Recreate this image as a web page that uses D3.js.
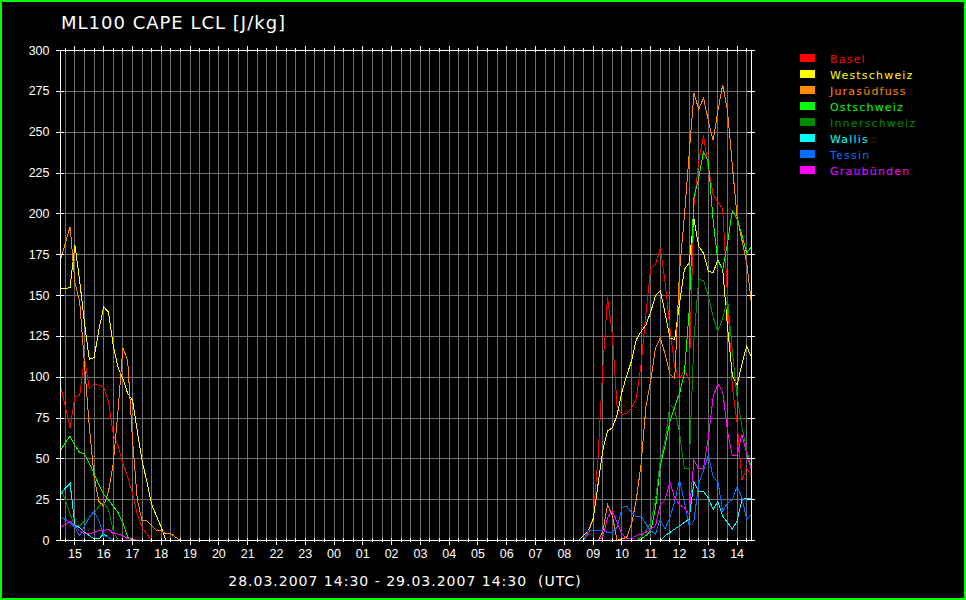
<!DOCTYPE html>
<html>
<head>
<meta charset="utf-8">
<script src="https://cdn.jsdelivr.net/npm/d3@7"></script>
<style>
  body { margin: 0; background: #000; }
  svg { display: block; }
</style>
</head>
<body>
<script>
/* ---------------------------- */
/* DATA                         */
/* ---------------------------- */

const regions = ["Basel", "Westschweiz", "Jurasüdfuss", "Ostschweiz", "Innerschweiz", "Wallis", "Tessin", "Graubünden"];
const colors  = ["#ff0000", "#ffff00", "#ff8c00", "#00ff00", "#008c00", "#00ffff", "#0070ff", "#ff00ff"];
const yTicks  = [0, 25, 50, 75, 100, 125, 150, 175, 200, 225, 250, 275, 300];

const startTime = Date.UTC(2007, 2, 28, 14, 30);
const endTime   = Date.UTC(2007, 2, 29, 14, 30);
const stepMinutes = 10; // one value every 10 min, 145 values per region

const basel = [
  95, 82, 69, 88, 89, 112, 93, 96, 95, 94, 85, 65,
  58, 47, 39, 29, 16, 8, 4, 0, 0, 0, 0, 0,
  0, 0, 0, 0, 0, 0, 0, 0, 0, 0, 0, 0,
  0, 0, 0, 0, 0, 0, 0, 0, 0, 0, 0, 0,
  0, 0, 0, 0, 0, 0, 0, 0, 0, 0, 0, 0,
  0, 0, 0, 0, 0, 0, 0, 0, 0, 0, 0, 0,
  0, 0, 0, 0, 0, 0, 0, 0, 0, 0, 0, 0,
  0, 0, 0, 0, 0, 0, 0, 0, 0, 0, 0, 0,
  0, 0, 0, 0, 0, 0, 0, 0, 0, 0, 0, 0,
  0, 0, 4, 14, 50, 105, 149, 126, 82, 77, 78, 81,
  87, 108, 139, 167, 169, 179, 158, 130, 106, 99, 105, 98,
  205, 232, 248, 228, 212, 207, 203, 150, 94, 72, 37, 44,
  40
];
const westschweiz = [
  154, 154, 155, 181, 159, 133, 111, 112, 129, 143, 140, 119,
  106, 99, 90, 86, 67, 49, 36, 22, 15, 8, 0, 0,
  0, 0, 0, 0, 0, 0, 0, 0, 0, 0, 0, 0,
  0, 0, 0, 0, 0, 0, 0, 0, 0, 0, 0, 0,
  0, 0, 0, 0, 0, 0, 0, 0, 0, 0, 0, 0,
  0, 0, 0, 0, 0, 0, 0, 0, 0, 0, 0, 0,
  0, 0, 0, 0, 0, 0, 0, 0, 0, 0, 0, 0,
  0, 0, 0, 0, 0, 0, 0, 0, 0, 0, 0, 0,
  0, 0, 0, 0, 0, 0, 0, 0, 0, 0, 0, 0,
  0, 3, 6, 13, 34, 55, 67, 69, 77, 91, 101, 110,
  123, 128, 132, 140, 150, 153, 139, 124, 123, 145, 166, 170,
  197, 180, 176, 165, 164, 172, 166, 131, 101, 95, 108, 119,
  112
];
const jurasuedfuss = [
  172, 182, 192, 158, 146, 108, 70, 39, 24, 21, 30, 47,
  80, 118, 110, 62, 25, 12, 12, 9, 6, 6, 4, 4,
  2, 0, 0, 0, 0, 0, 0, 0, 0, 0, 0, 0,
  0, 0, 0, 0, 0, 0, 0, 0, 0, 0, 0, 0,
  0, 0, 0, 0, 0, 0, 0, 0, 0, 0, 0, 0,
  0, 0, 0, 0, 0, 0, 0, 0, 0, 0, 0, 0,
  0, 0, 0, 0, 0, 0, 0, 0, 0, 0, 0, 0,
  0, 0, 0, 0, 0, 0, 0, 0, 0, 0, 0, 0,
  0, 0, 0, 0, 0, 0, 0, 0, 0, 0, 0, 0,
  0, 0, 0, 0, 0, 5, 22, 15, 0, 1, 2, 10,
  25, 47, 82, 98, 118, 124, 114, 102, 99, 165, 198, 236,
  274, 264, 271, 257, 245, 263, 279, 263, 230, 198, 184, 170,
  145
];
const ostschweiz = [
  55, 60, 64, 58, 54, 53, 47, 41, 34, 28, 25, 21,
  17, 11, 2, 0, 0, 0, 0, 0, 0, 0, 0, 0,
  0, 0, 0, 0, 0, 0, 0, 0, 0, 0, 0, 0,
  0, 0, 0, 0, 0, 0, 0, 0, 0, 0, 0, 0,
  0, 0, 0, 0, 0, 0, 0, 0, 0, 0, 0, 0,
  0, 0, 0, 0, 0, 0, 0, 0, 0, 0, 0, 0,
  0, 0, 0, 0, 0, 0, 0, 0, 0, 0, 0, 0,
  0, 0, 0, 0, 0, 0, 0, 0, 0, 0, 0, 0,
  0, 0, 0, 0, 0, 0, 0, 0, 0, 0, 0, 0,
  0, 0, 0, 0, 0, 0, 0, 0, 0, 0, 0, 0,
  0, 1, 3, 6, 20, 46, 58, 73, 82, 90, 102, 140,
  210, 222, 238, 232, 196, 171, 166, 182, 202, 197, 187, 176,
  180
];
const innerschweiz = [
  31, 25, 16, 9, 9, 12, 14, 17, 21, 23, 19, 6,
  0, 0, 0, 0, 0, 0, 0, 0, 0, 0, 0, 0,
  0, 0, 0, 0, 0, 0, 0, 0, 0, 0, 0, 0,
  0, 0, 0, 0, 0, 0, 0, 0, 0, 0, 0, 0,
  0, 0, 0, 0, 0, 0, 0, 0, 0, 0, 0, 0,
  0, 0, 0, 0, 0, 0, 0, 0, 0, 0, 0, 0,
  0, 0, 0, 0, 0, 0, 0, 0, 0, 0, 0, 0,
  0, 0, 0, 0, 0, 0, 0, 0, 0, 0, 0, 0,
  0, 0, 0, 0, 0, 0, 0, 0, 0, 0, 0, 0,
  0, 0, 0, 0, 0, 0, 0, 0, 0, 0, 0, 0,
  0, 2, 6, 11, 25, 49, 61, 83, 80, 66, 44, 44,
  123, 160, 159, 150, 137, 128, 136, 148, 116, 88, 70, 55,
  45
];
const wallis = [
  28, 32, 35, 9, 8, 5, 3, 1, 1, 4, 2, 0,
  0, 0, 0, 0, 0, 0, 0, 0, 0, 0, 0, 0,
  0, 0, 0, 0, 0, 0, 0, 0, 0, 0, 0, 0,
  0, 0, 0, 0, 0, 0, 0, 0, 0, 0, 0, 0,
  0, 0, 0, 0, 0, 0, 0, 0, 0, 0, 0, 0,
  0, 0, 0, 0, 0, 0, 0, 0, 0, 0, 0, 0,
  0, 0, 0, 0, 0, 0, 0, 0, 0, 0, 0, 0,
  0, 0, 0, 0, 0, 0, 0, 0, 0, 0, 0, 0,
  0, 0, 0, 0, 0, 0, 0, 0, 0, 0, 0, 0,
  0, 0, 0, 0, 0, 0, 0, 0, 0, 0, 0, 0,
  0, 0, 0, 0, 0, 0, 3, 5, 7, 9, 11, 13,
  36, 30, 30, 26, 19, 24, 15, 11, 7, 12, 25, 26,
  26
];
const tessin = [
  14, 13, 11, 8, 3, 9, 14, 18, 12, 3, 2, 0,
  0, 0, 0, 0, 0, 0, 0, 0, 0, 0, 0, 0,
  0, 0, 0, 0, 0, 0, 0, 0, 0, 0, 0, 0,
  0, 0, 0, 0, 0, 0, 0, 0, 0, 0, 0, 0,
  0, 0, 0, 0, 0, 0, 0, 0, 0, 0, 0, 0,
  0, 0, 0, 0, 0, 0, 0, 0, 0, 0, 0, 0,
  0, 0, 0, 0, 0, 0, 0, 0, 0, 0, 0, 0,
  0, 0, 0, 0, 0, 0, 0, 0, 0, 0, 0, 0,
  0, 0, 0, 0, 0, 0, 0, 0, 0, 0, 0, 0,
  0, 0, 6, 6, 6, 6, 5, 5, 8, 20, 21, 17,
  15, 15, 10, 6, 4, 13, 7, 14, 24, 37, 24, 9,
  12, 35, 43, 52, 39, 36, 18, 23, 25, 33, 26, 13,
  16
];
const graubuenden = [
  8, 10, 12, 9, 6, 4, 4, 5, 6, 6, 7, 4,
  4, 3, 1, 1, 0, 0, 0, 0, 0, 0, 0, 0,
  0, 0, 0, 0, 0, 0, 0, 0, 0, 0, 0, 0,
  0, 0, 0, 0, 0, 0, 0, 0, 0, 0, 0, 0,
  0, 0, 0, 0, 0, 0, 0, 0, 0, 0, 0, 0,
  0, 0, 0, 0, 0, 0, 0, 0, 0, 0, 0, 0,
  0, 0, 0, 0, 0, 0, 0, 0, 0, 0, 0, 0,
  0, 0, 0, 0, 0, 0, 0, 0, 0, 0, 0, 0,
  0, 0, 0, 0, 0, 0, 0, 0, 0, 0, 0, 0,
  0, 0, 0, 0, 0, 2, 14, 18, 11, 4, 1, 1,
  3, 4, 5, 7, 9, 22, 25, 36, 26, 22, 20, 16,
  49, 44, 44, 63, 88, 96, 91, 67, 52, 52, 65, 53,
  43
];

const series = [basel, westschweiz, jurasuedfuss, ostschweiz, innerschweiz, wallis, tessin, graubuenden];

/* ---------------------------- */
/* CANVAS                       */
/* ---------------------------- */

const w = 966;
const h = 600;
const plot = {left: 60, right: 751, top: 50, bottom: 540};
const gridColor = "#707070";

let svg = d3.select("body")
  .append("svg")
    .attr("width", w)
    .attr("height", h);

svg.append("rect")
  .attr("width", w)
  .attr("height", h)
  .attr("fill", "#000");

// Scales
let x = d3.scaleUtc()
  .domain([startTime, endTime])
  .range([plot.left, plot.right]);
let y = d3.scaleLinear()
  .domain([0, 300])
  .range([plot.bottom, plot.top]);

const minorTicks = x.ticks(d3.utcMinute.every(20));

// Grid
let grid = svg.append("g")
  .attr("stroke", gridColor)
  .attr("shape-rendering", "crispEdges");
grid.selectAll("line.v")
  .data(minorTicks)
  .enter()
  .append("line")
    .attr("class", "v")
    .attr("x1", (d) => x(d) + 0.5)
    .attr("x2", (d) => x(d) + 0.5)
    .attr("y1", plot.top + 0.5)
    .attr("y2", plot.bottom + 0.5);
grid.selectAll("line.h")
  .data(yTicks.filter((d) => d > 0 && d < 300))
  .enter()
  .append("line")
    .attr("class", "h")
    .attr("x1", plot.left + 0.5)
    .attr("x2", plot.right + 0.5)
    .attr("y1", (d) => y(d) + 0.5)
    .attr("y2", (d) => y(d) + 0.5);

// Lines
let line = d3.line()
  .x((d, i) => x(startTime + i * stepMinutes * 60000))
  .y((d) => y(d));

svg.append("g")
  .attr("transform", "translate(0.5,0.5)")
  .selectAll("path")
  .data(series)
  .enter()
  .append("path")
    .attr("d", line)
    .attr("fill", "none")
    .attr("stroke", (d, i) => colors[i])
    .attr("stroke-width", 1)
    .attr("shape-rendering", "crispEdges");

/* ---------------------------- */
/* AXES                         */
/* ---------------------------- */

function styleAxis(g) {
  g.attr("color", "#fff")
   .attr("font-family", "'Liberation Sans', Arial, sans-serif")
   .attr("font-size", "12.5px")
   .attr("shape-rendering", "crispEdges");
  g.selectAll("text").attr("fill", "#fff");
}

// Left
svg.append("g")
  .attr("transform", "translate(" + plot.left + ",0)")
  .call(d3.axisLeft(y).tickValues(yTicks).tickSize(4).tickSizeOuter(0).tickPadding(6.5))
  .call(styleAxis)
  .call((g) => g.selectAll(".tick line").attr("x1", 4));

// Right
svg.append("g")
  .attr("transform", "translate(" + plot.right + ",0)")
  .call(d3.axisRight(y).tickValues(yTicks).tickSize(4).tickSizeOuter(0).tickFormat(""))
  .call(styleAxis)
  .call((g) => g.selectAll(".tick line").attr("x1", -4));

// Bottom minor + hours
svg.append("g")
  .attr("transform", "translate(0," + plot.bottom + ")")
  .call(d3.axisBottom(x).ticks(d3.utcMinute.every(20)).tickSize(2).tickSizeOuter(0).tickFormat(""))
  .call(styleAxis)
  .call((g) => g.selectAll(".tick line").attr("y1", -2));
svg.append("g")
  .attr("transform", "translate(0," + plot.bottom + ")")
  .call(d3.axisBottom(x).ticks(d3.utcHour.every(1)).tickSize(5).tickPadding(4).tickFormat(d3.utcFormat("%H")))
  .call(styleAxis)
  .call((g) => g.select(".domain").remove())
  .call((g) => g.selectAll(".tick line").attr("y1", -2));

// Top minor + hours
svg.append("g")
  .attr("transform", "translate(0," + plot.top + ")")
  .call(d3.axisTop(x).ticks(d3.utcMinute.every(20)).tickSize(2).tickSizeOuter(0).tickFormat(""))
  .call(styleAxis)
  .call((g) => g.selectAll(".tick line").attr("y1", 2));
svg.append("g")
  .attr("transform", "translate(0," + plot.top + ")")
  .call(d3.axisTop(x).ticks(d3.utcHour.every(1)).tickSize(4).tickFormat(""))
  .call(styleAxis)
  .call((g) => g.select(".domain").remove())
  .call((g) => g.selectAll(".tick line").attr("y1", 2));

/* ---------------------------- */
/* LEGEND + TEXT                */
/* ---------------------------- */

let legend = svg.append("g");
legend.selectAll("rect")
  .data(regions)
  .enter()
  .append("rect")
    .attr("x", 800)
    .attr("y", (d, i) => 54 + i * 16)
    .attr("width", 15)
    .attr("height", 8)
    .attr("fill", (d, i) => colors[i]);
legend.selectAll("text")
  .data(regions)
  .enter()
  .append("text")
    .attr("x", 830)
    .attr("y", (d, i) => 62.5 + i * 16)
    .attr("fill", (d, i) => colors[i])
    .style("font-family", "'DejaVu Sans', sans-serif")
    .style("font-size", "11px")
    .style("letter-spacing", "1.2px")
    .text((d) => d);

// Title
svg.append("text")
  .attr("x", 61)
  .attr("y", 28.5)
  .attr("fill", "#fff")
  .style("font-family", "'DejaVu Sans', sans-serif")
  .style("font-size", "18px")
  .style("letter-spacing", "1px")
  .text("ML100 CAPE LCL [J/kg]");

// Time range
svg.append("text")
  .attr("x", 405)
  .attr("y", 586)
  .attr("text-anchor", "middle")
  .attr("fill", "#fff")
  .style("font-family", "'DejaVu Sans', sans-serif")
  .style("font-size", "14px")
  .style("letter-spacing", "1px")
  .style("white-space", "pre")
  .text("28.03.2007 14:30 - 29.03.2007 14:30  (UTC)");

// Green frame
svg.append("rect")
  .attr("x", 1)
  .attr("y", 1)
  .attr("width", w - 2)
  .attr("height", h - 2)
  .attr("fill", "none")
  .attr("stroke", "#00ff00")
  .attr("stroke-width", 2);
</script>
</body>
</html>
